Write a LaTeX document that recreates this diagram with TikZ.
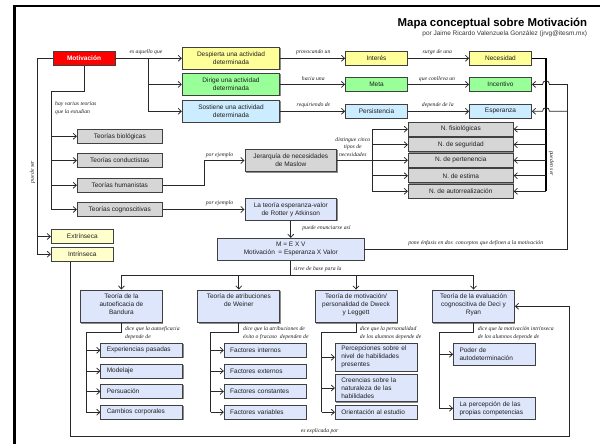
\documentclass[tikz,border=0pt]{standalone}
\usepackage{fontspec}
\setmainfont{Liberation Sans}
\newfontfamily\lblfont{Liberation Serif}
\usetikzlibrary{arrows.meta,shadows}
\definecolor{cred}{HTML}{FF0000}
\definecolor{cyel}{HTML}{FFFF99}
\definecolor{cgrn}{HTML}{99FF99}
\definecolor{cblu}{HTML}{CCECFF}
\definecolor{cgry}{HTML}{D6D6D6}
\definecolor{cpyl}{HTML}{FFFFCC}
\definecolor{clav}{HTML}{DDE6FA}
\definecolor{cbrd}{HTML}{404040}
\definecolor{cline}{HTML}{282828}
\begin{document}
\begin{tikzpicture}[x=1pt,y=-1pt,
  box/.style={draw=cbrd, line width=0.8pt, inner sep=0pt, align=center,
     font=\fontsize{6.5}{8}\selectfont, text=black!88,
     drop shadow={shadow xshift=0.9pt, shadow yshift=-0.9pt, fill=black!45, opacity=1}},
  sm/.style={box, minimum width=62pt, minimum height=14pt},
  gbox/.style={box, fill=cgry, minimum width=85pt, minimum height=14pt},
  nbox/.style={box, fill=cgry, minimum width=105pt, minimum height=14pt},
  tbox/.style={box, fill=clav, minimum width=82pt, minimum height=32.7pt},
  ttxt/.style={inner sep=0pt, align=center, font=\fontsize{6.5}{8}\selectfont, text=black!88, anchor=north},
  sub/.style={box, fill=clav, align=left, minimum width=82pt, text width=70pt},
  ln/.style={draw=cline, line width=0.75pt},
  arr/.style={ln, -{Straight Barb[length=3.2pt,width=6pt]}},
  lbl/.style={font=\lblfont\itshape\fontsize{5.7}{7.8}\selectfont, text=black!88, inner sep=0pt, align=center}
]
\useasboundingbox (0,0) rectangle (600,444);
\draw[line width=2.5pt] (14.5,444) -- (14.5,6) -- (600,6);

% title
\node[font=\fontsize{11.4}{13}\selectfont\bfseries, anchor=base east, inner sep=0pt] (title) at (587.3,26.7) {Mapa conceptual sobre Motivación};
\node[font=\fontsize{6.5}{8}\selectfont, anchor=base east, inner sep=0pt, text=black!80] (subt) at (587.3,36) {por Jaime Ricardo Valenzuela González (jrvg@itesm.mx)};

% top rows
\node[sm, fill=cred, font=\fontsize{6.5}{8}\selectfont\bfseries, text=white] (mot) at (84,58.3) {Motivación};
\node[box, fill=cyel, minimum width=97.5pt, minimum height=22pt] (desp) at (231,58.3) {Despierta una actividad\\determinada};
\node[box, fill=cgrn, minimum width=97.5pt, minimum height=22.4pt] (dir) at (231,84.4) {Dirige una actividad\\determinada};
\node[box, fill=cblu, minimum width=97.5pt, minimum height=22.3pt] (sos) at (231,111.3) {Sostiene una actividad\\determinada};
\node[sm, fill=cyel] (int) at (376.5,58.3) {Interés};
\node[sm, fill=cgrn] (meta) at (376.5,84.4) {Meta};
\node[sm, fill=cblu] (pers) at (376.5,111.3) {Persistencia};
\node[sm, fill=cyel] (nec) at (500.5,58.3) {Necesidad};
\node[sm, fill=cgrn] (inc) at (500.5,84.4) {Incentivo};
\node[sm, fill=cblu] (esp) at (500.5,111.3) {Esperanza};

% theories
\node[gbox] (tbio) at (119.8,136.3) {Teorías biológicas};
\node[gbox] (tcon) at (119.8,160.5) {Teorías conductistas};
\node[gbox] (thum) at (119.8,185.3) {Teorías humanistas};
\node[gbox] (tcog) at (119.8,209.5) {Teorías cognoscitivas};
\node[sm, fill=cpyl] (ext) at (82.3,236.5) {Extrínseca};
\node[sm, fill=cpyl] (intr) at (82.3,254.2) {Intrínseca};

\node[box, fill=cgry, minimum width=91.8pt, minimum height=22.4pt] (jer) at (290.8,160.5) {Jerarquía de necesidades\\de Maslow};
\node[box, fill=clav, minimum width=91.8pt, minimum height=22pt] (tev) at (290.8,209.5) {La teoría esperanza-valor\\de Rotter y Atkinson};
\node[box, fill=clav, minimum width=146.4pt, minimum height=22pt] (mev) at (290.8,249.3) {M = E X V\\Motivación \ = Esperanza X Valor};

\node[nbox] (nfis) at (460.8,129.2) {N. fisiológicas};
\node[nbox] (nseg) at (460.8,144.7) {N. de seguridad};
\node[nbox] (nper) at (460.8,160.3) {N. de pertenencia};
\node[nbox] (nest) at (460.8,175.7) {N. de estima};
\node[nbox] (naut) at (460.8,191.3) {N. de autorrealización};

% bottom theories
\node[tbox] (band) at (121.4,306.3) {};
\node[ttxt] (bandt) at ([yshift=-4pt]band.north) {Teoría de la\\autoeficacia de\\Bandura};
\node[tbox] (wein) at (238.8,306.3) {};
\node[ttxt] (weint) at ([yshift=-4pt]wein.north) {Teoría de atribuciones\\de Weiner};
\node[tbox] (dweck) at (356,306.3) {};
\node[ttxt] (dweckt) at ([yshift=-4pt]dweck.north) {Teoría de motivación/\\personalidad de Dweck\\y Leggett};
\node[tbox] (deci) at (473.5,306.3) {};
\node[ttxt] (decit) at ([yshift=-4pt]deci.north) {Teoría de la evaluación\\cognoscitiva de Deci y\\Ryan};

\node[sub, minimum height=14pt] (exp) at (141.8,350.3) {Experiencias pasadas};
\node[sub, minimum height=14pt] (mod) at (141.8,371) {Modelaje};
\node[sub, minimum height=14pt] (persu) at (141.8,391.5) {Persuación};
\node[sub, minimum height=14pt] (camb) at (141.8,412.2) {Cambios corporales};
\node[sub, minimum height=14pt] (fint) at (265.2,350.3) {Factores internos};
\node[sub, minimum height=14pt] (fext) at (265.2,371) {Factores externos};
\node[sub, minimum height=14pt] (fcon) at (265.2,391.5) {Factores constantes};
\node[sub, minimum height=14pt] (fvar) at (265.2,412.2) {Factores variables};
\node[sub, minimum height=28pt] (perc) at (376.3,357.3) {Percepciones sobre el\\nivel de habilidades\\presentes};
\node[sub, minimum height=27.5pt] (cre) at (376.3,388) {Creencias sobre la\\naturaleza de las\\habilidades};
\node[sub, minimum height=14pt] (ori) at (376.3,412.2) {Orientación al estudio};
\node[sub, minimum height=22pt] (pod) at (494.5,354.3) {Poder de\\autodeterminación};
\node[sub, minimum height=22pt] (lap) at (494.5,408.3) {La percepción de las\\propias competencias};

% connectors top
\coordinate (b1) at (148.3,58.3);
\draw[arr] (mot.east) -- (desp.west);
\draw[arr] (b1) |- (dir.west);
\draw[arr] (b1) |- (sos.west);
\draw[arr] (desp.east) -- (int.west);
\draw[arr] (int.east) -- (nec.west);
\draw[arr] (dir.east) -- (meta.west);
\draw[arr] (meta.east) -- (inc.west);
\draw[arr] (sos.east) -- (pers.west);
\draw[arr] (pers.east) -- (esp.west);

\coordinate (nv) at (546,191.3);
\draw[draw=black, line width=1.1pt] (nec.east) -| (nv);
\foreach \n in {nfis,nseg,nper,nest,naut} \draw[arr] (nv |- \n.east) -- (\n.east);

\coordinate (rv1) at (567,84.4);
\coordinate (rv2) at (567,111.3);
\draw[ln] (mev.east) -| (rv1);
\draw[arr] (rv1) -- (549.5,84.4) .. controls (549.5,79.6) and (542.5,79.6) .. (542.5,84.4) -- (inc.east);
\draw[arr] (rv2) -- (549.5,111.3) .. controls (549.5,106.5) and (542.5,106.5) .. (542.5,111.3) -- (esp.east);

\coordinate (tv) at (51.7,209.5);
\draw[ln] (mot.south) -- ++(0,25.4) -| (tv);
\foreach \n in {tbio,tcon,thum,tcog} \draw[arr] (tv |- \n.west) -- (\n.west);

\coordinate (ev) at (37.3,254.2);
\draw[ln] (mot.west) -| (ev);
\draw[arr] (ev |- ext.west) -- (ext.west);
\draw[arr] (ev) -- (intr.west);

\draw[arr] (thum.east) -- ++(41.3,0) |- (jer.west);
\draw[arr] (tcog.east) -- (tev.west);

\coordinate (jt) at (372.4,129.2);
\draw[ln] (jer.east) -- (jer.east -| jt);
\draw[ln] (jt |- nfis.west) -- (jt |- naut.west);
\foreach \n in {nfis,nseg,nper,nest,naut} \draw[arr] (jt |- \n.west) -- (\n.west);

\draw[arr] (tev.south) -- (mev.north);

\coordinate (hb) at (290.8,275.3);
\draw[ln] (mev.south) -- (hb);
\draw[ln] (band.north |- hb) -- (deci.north |- hb);
\foreach \n in {band,wein,dweck,deci} \draw[arr] (\n.north |- hb) -- (\n.north);

\coordinate (bv) at (86,412.2);
\draw[ln] (band.south) -- ++(0,9.6) -| (bv);
\foreach \n in {exp,mod,persu,camb} \draw[arr] (bv |- \n.west) -- (\n.west);
\coordinate (wv) at (210.5,412.2);
\draw[ln] (wein.south) -- ++(0,9.6) -| (wv);
\foreach \n in {fint,fext,fcon,fvar} \draw[arr] (wv |- \n.west) -- (\n.west);
\coordinate (dv) at (321.5,412.2);
\draw[ln] (dweck.south) -- ++(0,9.6) -| (dv);
\foreach \n in {perc,cre,ori} \draw[arr] (dv |- \n.west) -- (\n.west);
\coordinate (cv) at (439.3,408.3);
\draw[ln] (deci.south) -- ++(0,9.6) -| (cv);
\foreach \n in {pod,lap} \draw[arr] (cv |- \n.west) -- (\n.west);

\coordinate (bc) at (569.8,436.7);
\draw[arr] ([xshift=-11.9pt]intr.south) |- (bc) |- (deci.east);

% labels
\node[lbl] (l1) at (146,52.3) {es aquello que};
\node[lbl] (l2) at (313.3,52.3) {provocando un};
\node[lbl] (l3) at (437.3,52.3) {surge de una};
\node[lbl] (l4) at (313.3,78.7) {hacia una};
\node[lbl] (l5) at (437,78.7) {que conlleva un};
\node[lbl] (l6) at (313.5,105) {requiriendo de};
\node[lbl] (l7) at (437.8,105) {depende de la};
\node[lbl, anchor=west, align=left] (l8) at (55,107.9) {hay varias teorías\\que la estudian};
\node[lbl, rotate=90] (l9) at (32.5,172) {puede ser};
\node[lbl] (l10) at (219.5,155.3) {por ejemplo};
\node[lbl] (l11) at (219.5,203) {por ejemplo};
\node[lbl] (l12) at (352.8,147) {distingue cinco\\tipos de\\necesidades};
\node[lbl, rotate=-90] (l13) at (551.5,163.5) {pueden ser};
\node[lbl] (l14) at (326.4,228.3) {puede enunciarse así};
\node[lbl] (l15) at (475.7,243) {pone énfasis en dos \ conceptos que definen a la motivación};
\node[lbl] (l16) at (317.6,268.7) {sirve de base para la};
\node[lbl, anchor=west, align=left] (l17) at (124.8,333.2) {dice que la autoeficacia\\depende de};
\node[lbl, anchor=west, align=left] (l18) at (243,333.2) {dice que la atribuciones de\\éxito o fracaso \ dependen de};
\node[lbl, anchor=west, align=left] (l19) at (359.7,333.2) {dice que la personalidad\\de los alumnos depende de};
\node[lbl, anchor=west, align=left] (l20) at (477.6,333.2) {dice que la motivación intrínseca\\de los alumnos depende de};
\node[lbl] (l21) at (319.6,431) {es explicada por};
\end{tikzpicture}
\end{document}
